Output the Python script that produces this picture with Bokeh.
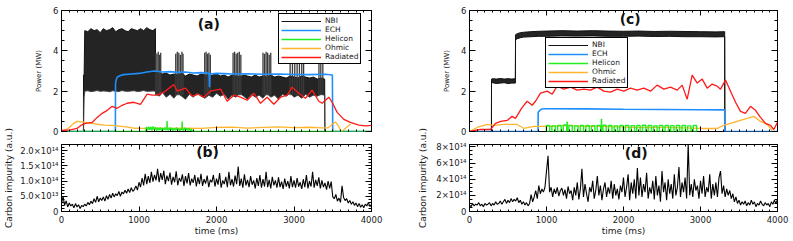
from bokeh.plotting import figure
from bokeh.models import (Range1d, LinearAxis, SingleIntervalTicker, Legend, LegendItem, Label,
                          CustomLabelingPolicy)
from bokeh.layouts import row, column
from bokeh.embed import file_html
from bokeh.resources import INLINE

FONT = "DejaVu Sans"
C_NBI = "#111111"
C_ECH = "#1f8fff"
C_HEL = "#22ee22"
C_OHM = "#ffb52e"
C_RAD = "#ff1a1a"

# ---------------- panel (a) : power, shot 1 ----------------
nbi_a_t = [0, 283, 284, 292, 300,
           340, 380, 420, 460, 500, 540, 580, 620, 660, 700, 740, 780, 820, 860, 900, 940, 980, 1020, 1060, 1100, 1140, 1180,
           1212, 1214, 1260,
           1300, 1350, 1400, 1450, 1500, 1550, 1600, 1650, 1700, 1750, 1800, 1850, 1900, 1950, 2000, 2050, 2100, 2150, 2200, 2250,
           2300, 2350, 2400, 2450, 2500, 2550, 2600, 2650, 2700, 2750, 2800, 2850, 2900, 2950, 3000, 3050, 3100, 3150, 3200, 3250,
           3300, 3350, 3396, 3398, 4000]
nbi_a_hi = [0, 0, 2.8, 2.8, 5.0,
            4.95, 5.1, 5.0, 5.05, 4.9, 5.1, 5.0, 5.05, 5.15, 4.95, 5.05, 5.1, 5.0, 4.95, 5.1, 5.05, 5.0, 5.1, 5.0, 5.15, 5.05, 5.0,
            5.1, 2.9, 2.95,
            2.85, 2.9, 2.8, 2.85, 2.8, 2.9, 2.75, 2.85, 2.8, 2.75, 2.85, 2.8, 2.75, 2.8, 2.85, 2.75, 2.8, 2.7, 2.8, 2.75,
            2.7, 2.8, 2.75, 2.7, 2.8, 2.7, 2.75, 2.7, 2.8, 2.7, 2.75, 2.7, 2.65, 2.75, 2.7, 2.65, 2.75, 2.7, 2.65, 2.7,
            2.6, 2.65, 2.6, 0, 0]
nbi_a_lo = [0, 0, 0, 1.7, 2.0,
            2.02, 1.98, 2.0, 2.03, 1.99, 2.01, 2.0, 1.97, 2.02, 2.0, 1.98, 2.03, 2.0, 1.99, 2.01, 2.02, 1.98, 2.0, 2.03, 1.99, 2.0, 2.01,
            2.0, 1.9, 1.75,
            1.95, 1.7, 1.85, 1.65, 1.9, 1.75, 1.6, 1.85, 1.7, 1.9, 1.75, 1.65, 1.8, 1.7, 1.9, 1.75, 1.85, 1.6, 1.8, 1.7,
            1.9, 1.75, 1.6, 1.85, 1.7, 1.8, 1.65, 1.9, 1.7, 1.8, 1.6, 1.85, 1.75, 1.9, 1.7, 1.8, 1.65, 1.85, 1.7, 1.8,
            1.75, 1.85, 1.8, 0, 0]
nbi_a_burst_t = [1216, 1232, 1248, 1264, 1280,
                 1474, 1494, 1514, 1534, 1554, 1568,
                 1848, 1866, 1884, 1902, 1920,
                 2214, 2234, 2254, 2274, 2294, 2314,
                 2600, 2620, 2640, 2660, 2680, 2700,
                 2950, 2980, 3010, 3040, 3070, 3100, 3124,
                 3322, 3346, 3372]
nbi_a_burst_v = [3.9, 3.85, 3.95, 3.8, 3.9,
                 3.85, 3.95, 3.9, 3.8, 3.95, 3.85,
                 3.9, 3.95, 3.85, 3.9, 3.8,
                 3.9, 3.95, 3.85, 3.9, 3.95, 3.8,
                 3.9, 3.85, 3.95, 3.9, 3.8, 3.9,
                 3.85, 3.95, 3.9, 3.8, 3.9, 3.85, 3.9,
                 3.9, 3.95, 3.85]
ech_a_t = [0, 695, 697, 705, 720, 760, 800, 900, 1000, 1100, 1200, 1300, 1400, 1500, 1600, 1700, 1800, 1905, 1910, 1915,
           2000, 2100, 2200, 2400, 2600, 2800, 3000, 3200, 3400, 3495, 3500, 4000]
ech_a_v = [0, 0, 2.4, 2.55, 2.7, 2.78, 2.82, 2.85, 2.88, 2.95, 3.0, 2.95, 2.97, 2.93, 2.95, 2.9, 2.92, 2.9, 2.2, 2.85,
           2.88, 2.87, 2.85, 2.86, 2.84, 2.85, 2.83, 2.82, 2.84, 2.8, 0, 0]
hel_a_t = [0, 1090, 1093, 1108, 1123, 1138, 1153, 1168, 1183, 1198,
           1213, 1228, 1243, 1258, 1273, 1288, 1303, 1318, 1333, 1348,
           1360, 1362, 1364, 1378, 1393, 1408, 1423, 1438, 1453, 1468,
           1483, 1498, 1513, 1528, 1543, 1555, 1557, 1559, 1573, 1588,
           1603, 1618, 1633, 1648, 1663, 1678, 1686, 1688, 4000]
hel_a_v = [0, 0, 0.22, 0.06, 0.24, 0.08, 0.22, 0.05, 0.25, 0.1,
           0.2, 0.04, 0.18, 0.06, 0.2, 0.05, 0.17, 0.08, 0.2, 0.06,
           0.18, 0.52, 0.15, 0.05, 0.2, 0.08, 0.18, 0.04, 0.16, 0.06,
           0.2, 0.05, 0.14, 0.04, 0.15, 0.1, 0.5, 0.12, 0.04, 0.18,
           0.06, 0.16, 0.05, 0.15, 0.04, 0.12, 0.03, 0, 0]
ohm_a_t = [0, 40, 100, 150, 200, 250, 300, 350, 400, 460, 550, 650, 750, 850, 950, 1050, 1200, 1400, 1600, 1800,
           2000, 2200, 2400, 2600, 2800, 3000, 3200, 3350, 3440, 3490, 3535, 3570, 3610, 3660, 3730]
ohm_a_v = [0.0, 0.05, 0.2, 0.38, 0.5, 0.48, 0.45, 0.42, 0.4, 0.36, 0.32, 0.3, 0.27, 0.22, 0.16, 0.15, 0.17, 0.15, 0.17, 0.15,
           0.2, 0.22, 0.17, 0.2, 0.23, 0.19, 0.21, 0.18, 0.18, 0.35, 0.47, 0.3, -0.03, 0.15, 0.37]
rad_a_t = [0, 116, 200, 250, 310, 396, 460, 525, 590, 654, 718, 783, 847, 933, 1019, 1105, 1170, 1234, 1320, 1406,
           1450, 1492, 1600, 1686, 1772, 1836, 1922, 2052, 2138, 2224, 2310, 2396, 2482, 2568, 2654, 2740, 2826, 2912, 2976, 3062,
           3148, 3234, 3320, 3363, 3449, 3492, 3557, 3643, 3729, 3836, 3923, 4000]
rad_a_v = [0.05, 0.08, 0.15, 0.3, 0.4, 0.45, 0.7, 0.9, 1.05, 1.25, 1.15, 1.3, 1.4, 1.45, 1.35, 1.85, 1.8, 1.8, 1.95, 2.2,
           2.33, 2.0, 2.15, 1.75, 1.85, 1.7, 2.0, 2.1, 1.5, 1.8, 1.7, 1.55, 1.9, 1.4, 1.7, 1.35, 1.7, 1.8, 2.2, 1.9,
           1.65, 2.05, 1.5, 1.4, 1.7, 1.45, 0.95, 0.6, 0.45, 0.32, 0.28, 0.3]

# ---------------- panel (b) : carbon impurity, shot 1 (units 1e13) ----------------
carbon_b_t = list(range(0, 4001, 20))
carbon_b_1e13 = [
    2.5, 5.0, 2.0, 3.5, 1.5, 2.8, 1.8, 2.4, 1.2, 2.6,
    1.5, 2.2, 1.0, 2.0, 1.6, 2.4, 1.8, 3.0, 2.2, 3.4,
    2.6, 4.2, 3.0, 5.0, 3.2, 4.4, 3.6, 4.8, 3.4, 5.2,
    4.0, 5.6, 4.4, 6.0, 4.8, 5.8, 5.2, 6.6, 5.0, 6.4,
    5.8, 7.0, 6.0, 7.4, 6.2, 7.8, 6.6, 7.2, 8.4, 7.0,
    9.6, 8.0, 11.0, 8.6, 12.4, 9.0, 11.6, 9.4, 13.0, 9.8,
    12.0, 10.2, 14.0, 9.6, 12.6, 10.4, 13.4, 9.0, 11.8, 10.0,
    12.8, 8.8, 11.4, 9.6, 13.2, 8.6, 11.0, 9.8, 12.2, 8.4,
    11.6, 9.2, 12.6, 8.6, 10.8, 9.4, 12.0, 8.2, 11.2, 9.0,
    12.4, 8.4, 10.6, 9.2, 11.8, 8.0, 10.4, 9.6, 12.0, 8.2,
    10.8, 8.8, 12.6, 7.8, 10.2, 9.0, 11.4, 8.0, 13.0, 8.6,
    10.6, 8.2, 11.8, 9.0, 14.8, 8.4, 10.8, 7.8, 12.2, 8.6,
    10.4, 8.0, 11.6, 8.8, 10.2, 7.6, 11.0, 8.4, 12.0, 7.8,
    10.6, 8.2, 13.0, 8.0, 10.4, 7.6, 11.4, 8.6, 10.2, 7.8,
    11.2, 8.0, 9.8, 7.4, 10.8, 8.2, 10.0, 7.6, 11.6, 8.0,
    10.2, 7.8, 11.0, 8.2, 9.6, 7.4, 10.6, 8.0, 12.0, 7.6,
    10.0, 8.2, 13.0, 7.8, 10.4, 8.4, 11.2, 7.6, 10.2, 8.0,
    9.4, 7.2, 10.0, 7.6, 9.8, 4.8, 4.2, 5.6, 3.4, 4.4,
    3.0, 8.4, 4.6, 3.6, 4.2, 2.8, 3.6, 2.4, 3.2, 2.0,
    2.8, 1.6, 2.6, 1.4, 2.2, 1.2, 2.4, 1.8, 3.0, 1.6,
    2.4]
carbon_b_ticks = {0: "0", 5: "5.0×10¹³", 10: "1.0×10¹⁴", 15: "1.5×10¹⁴", 20: "2.0×10¹⁴"}

# ---------------- panel (c) : power, shot 2 ----------------
nbi_c_t = [0, 285, 286, 300, 350, 400, 450, 500, 550, 596, 598, 620, 660, 700, 800, 900, 1000, 1200, 1400, 1600,
           1800, 2000, 2200, 2400, 2600, 2800, 3000, 3200, 3314, 3316, 4000]
nbi_c_hi = [0, 0, 2.6, 2.62, 2.6, 2.63, 2.6, 2.62, 2.6, 2.62, 4.8, 4.85, 4.9, 4.92, 4.95, 4.97, 4.98, 5.0, 4.98, 5.0,
            4.98, 4.97, 4.98, 4.96, 4.97, 4.96, 4.95, 4.94, 4.95, 0, 0]
nbi_c_lo = [0, 0, 2.4, 2.42, 2.38, 2.4, 2.42, 2.38, 2.4, 2.4, 4.55, 4.6, 4.65, 4.68, 4.7, 4.72, 4.72, 4.74, 4.73, 4.74,
            4.72, 4.72, 4.73, 4.71, 4.72, 4.7, 4.7, 4.69, 4.7, 0, 0]
ech_c_t = [0, 890, 892, 900, 930, 960, 1000, 1500, 2000, 2500, 3000, 3300, 3314, 3316, 4000]
ech_c_v = [0, 0, 0.95, 1.0, 1.1, 1.13, 1.13, 1.12, 1.1, 1.09, 1.08, 1.07, 1.07, 0, 0]
hel_c_start = [998, 1070, 1145, 1218, 1290, 1365, 1438, 1512, 1585, 1660, 1732, 1806, 1880, 1952, 2026, 2100, 2172,
               2246, 2320, 2392, 2466, 2540, 2612, 2686, 2760, 2832, 2906]
hel_c_end = [1042, 1114, 1189, 1262, 1334, 1409, 1482, 1556, 1629, 1704, 1776, 1850, 1924, 1996, 2070, 2144, 2216,
             2290, 2364, 2436, 2510, 2584, 2656, 2730, 2804, 2876, 2950]
hel_c_top = [0.3, 0.28, 0.3, 0.32, 0.3, 0.28, 0.3, 0.3, 0.29, 0.3, 0.31, 0.3, 0.28, 0.3, 0.3, 0.29, 0.3,
             0.31, 0.3, 0.28, 0.3, 0.3, 0.29, 0.3, 0.3, 0.28, 0.3]
hel_c_spike_t = [1268, 1714]
hel_c_spike_v = [0.5, 0.63]
ohm_c_t = [0, 100, 229, 316, 446, 619, 706, 835, 1052, 1268, 1485, 1701, 2134, 2567, 3000, 3216, 3303, 3433, 3606, 3693,
           3779, 3866, 3931]
ohm_c_v = [0.0, 0.2, 0.35, 0.3, 0.35, 0.35, 0.15, 0.25, 0.25, 0.3, 0.25, 0.25, 0.2, 0.2, 0.15, 0.15, 0.3, 0.45, 0.65, 0.75,
           0.5, 0.35, 0.05]
rad_c_t = [0, 143, 273, 338, 403, 489, 554, 597, 684, 749, 814, 857, 922, 1009, 1074, 1139, 1225, 1312, 1398, 1485,
           1571, 1658, 1745, 1831, 1918, 2004, 2091, 2177, 2264, 2351, 2437, 2524, 2610, 2697, 2762, 2827, 2892, 2957, 3022, 3087,
           3152, 3216, 3260, 3325, 3390, 3455, 3519, 3584, 3649, 3714, 3779, 3844, 3909, 3952, 4000]
rad_c_v = [0.0, 0.1, 0.1, 0.4, 0.5, 0.55, 0.75, 0.65, 1.2, 1.5, 1.3, 1.5, 1.9, 2.0, 1.85, 2.25, 2.1, 2.2, 2.05, 2.1,
           2.05, 2.2, 2.0, 1.95, 2.1, 2.0, 2.15, 2.05, 2.15, 2.0, 2.3, 2.1, 2.2, 2.05, 2.3, 1.6, 2.8, 2.4, 2.6, 2.15,
           2.35, 2.25, 2.1, 2.55, 2.0, 1.45, 1.0, 0.9, 1.25, 1.05, 0.7, 0.4, 0.3, 0.1, 0.45]

# ---------------- panel (d) : carbon impurity, shot 2 (units 1e14) ----------------
carbon_d_t = list(range(0, 4001, 20))
carbon_d_1e14 = [
    0.8, 0.6, 1.0, 0.7, 0.9, 0.8, 1.1, 0.7, 0.9, 0.6,
    1.0, 0.8, 0.9, 1.1, 0.7, 1.0, 0.8, 1.2, 0.9, 1.0,
    1.3, 0.9, 1.2, 1.5, 1.0, 1.4, 1.1, 1.6, 1.2, 1.5,
    1.3, 1.7, 1.1, 1.4, 0.9, 1.2, 0.8, 1.1, 0.7, 1.0,
    2.1, 1.2, 1.8, 2.6, 1.6, 3.2, 2.2, 2.8, 2.4, 3.0,
    5.0, 6.9, 2.4, 3.0, 1.8, 2.8, 2.2, 3.0, 1.9, 2.6,
    2.9, 2.0, 2.7, 1.6, 3.1, 2.2, 2.6, 1.4, 3.0, 2.0,
    3.6, 1.5, 2.8, 5.3, 1.8, 3.4, 2.2, 1.2, 3.0, 2.4,
    3.8, 1.6, 2.6, 4.4, 2.0, 3.2, 1.4, 2.8, 3.6, 1.8,
    3.0, 2.2, 3.8, 1.6, 3.4, 2.0, 2.8, 1.5, 3.2, 2.4,
    4.2, 1.8, 3.0, 4.6, 1.4, 3.6, 2.2, 4.0, 1.6, 5.4,
    2.0, 4.2, 1.8, 3.4, 2.4, 4.8, 1.6, 3.0, 2.2, 3.8,
    1.5, 4.4, 2.0, 3.2, 1.2, 5.0, 2.4, 3.6, 1.4, 4.0,
    2.2, 3.4, 1.6, 4.6, 2.0, 3.0, 5.5, 1.8, 3.6, 2.4,
    4.2, 1.6, 8.4, 2.0, 3.4, 1.8, 4.0, 2.6, 3.2, 1.6,
    3.8, 2.2, 4.4, 1.8, 3.0, 2.4, 4.6, 1.6, 3.4, 2.0,
    3.6, 1.8, 4.2, 5.0, 2.2, 3.2, 1.8, 2.8, 2.0, 2.6,
    1.6, 2.2, 1.2, 1.8, 1.0, 1.4, 0.8, 1.2, 0.9, 1.3,
    0.7, 1.1, 0.8, 1.4, 0.9, 1.2, 0.6, 1.0, 0.8, 1.3,
    0.9, 0.7, 1.1, 0.8, 1.0, 0.6, 1.2, 0.9, 1.4, 1.0,
    1.5]
carbon_d_ticks = {0: "0", 2: "2×10¹⁴", 4: "4×10¹⁴", 6: "6×10¹⁴", 8: "8×10¹⁴"}

legend_labels = ["NBI", "ECH", "Helicon", "Ohmic", "Radiated"]

NO_LABELS = """
try { const n = indices.size; for (let i = 0; i < n; i++) indices.unset(i); } catch (e) {}
return indices
"""


def make_fig(w, h, yr, left, right, top, bottom):
    p = figure(width=w, height=h, x_range=Range1d(0, 4000), y_range=Range1d(*yr),
               min_border_left=left, min_border_right=right, min_border_top=top, min_border_bottom=bottom,
               toolbar_location=None, output_backend="svg")
    p.xgrid.visible = False
    p.ygrid.visible = False
    p.outline_line_color = "black"
    p.outline_line_alpha = 1
    p.outline_line_width = 1
    p.background_fill_color = "white"
    p.border_fill_color = "white"
    return p


def style_axis(ax, show, tick_in, minor_in):
    ax.axis_line_color = None
    ax.major_tick_in = tick_in
    ax.major_tick_out = 0
    ax.minor_tick_in = minor_in
    ax.minor_tick_out = 0
    ax.major_tick_line_color = "black"
    ax.minor_tick_line_color = "black"
    ax.major_label_text_font = FONT
    ax.major_label_text_color = "#1a1a1a"
    if show:
        ax.major_label_text_font_size = "8.5px"
        ax.major_label_standoff = 3
    else:
        ax.major_label_text_font_size = "0px"
        ax.major_label_standoff = 0
        ax.major_label_policy = CustomLabelingPolicy(code=NO_LABELS)
    ax.axis_label_text_font = FONT
    ax.axis_label_text_font_style = "normal"
    ax.axis_label_text_color = "#1a1a1a"


def frame_axes(p, x_int, x_minor, y_int, y_minor, show_x):
    xt = SingleIntervalTicker(interval=x_int, num_minor_ticks=x_minor)
    yt = SingleIntervalTicker(interval=y_int, num_minor_ticks=y_minor)
    bottom = p.below[0]
    left = p.left[0]
    bottom.ticker = xt
    style_axis(bottom, show_x, 5, 2)
    left.ticker = yt
    style_axis(left, True, 6, 3)
    ra = LinearAxis(ticker=yt)
    style_axis(ra, False, 6, 3)
    p.add_layout(ra, "right")
    ta = LinearAxis(ticker=xt)
    style_axis(ta, False, 5, 2)
    p.add_layout(ta, "above")
    return bottom, left


def add_legend(p, renderers, loc):
    items = [LegendItem(label=l, renderers=[r]) for l, r in zip(legend_labels, renderers)]
    lg = Legend(items=items, location=loc, orientation="vertical")
    lg.border_line_color = "black"
    lg.border_line_width = 1
    lg.border_line_alpha = 1
    lg.background_fill_color = "white"
    lg.background_fill_alpha = 1
    lg.label_text_font = FONT
    lg.label_text_font_size = "7.5px"
    lg.label_text_color = "#1a1a1a"
    lg.label_height = 8
    lg.glyph_height = 8
    lg.glyph_width = 40
    lg.spacing = 0
    lg.padding = 2
    lg.margin = 0
    lg.label_standoff = 4
    p.add_layout(lg)


def panel_tag(p, x, y, text):
    p.add_layout(Label(x=x, y=y, text=text, text_font=FONT, text_font_size="14px",
                       text_font_style="bold", text_align="center", text_baseline="middle",
                       text_color="#111111"))


# ---- (a)
pa = make_fig(400, 136, (0, 6), 61, 29, 10, 5)
xa, ya = frame_axes(pa, 1000, 10, 2, 4, False)
ya.axis_label = "Power (MW)"
ya.axis_label_text_font_size = "7px"
ya.axis_label_standoff = 7
pa.varea(x=nbi_a_t, y1=nbi_a_lo, y2=nbi_a_hi, fill_color=C_NBI, fill_alpha=0.92)
r_nbi_a = pa.line(nbi_a_t, nbi_a_hi, line_color=C_NBI, line_width=1)
pa.line(nbi_a_t, nbi_a_lo, line_color="#444444", line_width=1)
pa.segment(x0=nbi_a_burst_t, y0=1.8, x1=nbi_a_burst_t, y1=nbi_a_burst_v, line_color="#3a3a3a", line_width=1.3)
r_ech_a = pa.line(ech_a_t, ech_a_v, line_color=C_ECH, line_width=1.6)
r_ohm_a = pa.line(ohm_a_t, ohm_a_v, line_color=C_OHM, line_width=1.3)
r_hel_a = pa.line(hel_a_t, hel_a_v, line_color=C_HEL, line_width=1.5)
r_rad_a = pa.line(rad_a_t, rad_a_v, line_color=C_RAD, line_width=1.3)
add_legend(pa, [r_nbi_a, r_ech_a, r_hel_a, r_ohm_a, r_rad_a], (217, 67))
panel_tag(pa, 1900, 5.35, "(a)")

# ---- (b)  (pulled up 10 px so its long y label is not clipped; transparent border)
pb = make_fig(400, 115, (0, 22), 61, 29, 18, 30)
pb.margin = (-10, 0, 0, 0)
pb.border_fill_alpha = 0
xb, yb = frame_axes(pb, 1000, 10, 5, 5, True)
xb.major_label_standoff = 4
yb.major_label_overrides = carbon_b_ticks
yb.axis_label = "Carbon impurity (a.u.)"
yb.axis_label_text_font_size = "9px"
yb.axis_label_standoff = 3
xb.axis_label = "time (ms)"
xb.axis_label_text_font_size = "9px"
xb.axis_label_standoff = 0
pb.line(carbon_b_t, carbon_b_1e13, line_color="black", line_width=1.1)
panel_tag(pb, 1885, 19.4, "(b)")

# ---- (c)
pc = make_fig(393, 136, (0, 6), 69, 16, 10, 5)
xc, yc = frame_axes(pc, 1000, 10, 2, 4, False)
yc.axis_label = "Power (MW)"
yc.axis_label_text_font_size = "7px"
yc.axis_label_standoff = 7
pc.varea(x=nbi_c_t, y1=nbi_c_lo, y2=nbi_c_hi, fill_color=C_NBI, fill_alpha=0.92)
r_nbi_c = pc.line(nbi_c_t, nbi_c_hi, line_color=C_NBI, line_width=1)
pc.line(nbi_c_t, nbi_c_lo, line_color=C_NBI, line_width=1)
r_ech_c = pc.line(ech_c_t, ech_c_v, line_color=C_ECH, line_width=1.6)
r_ohm_c = pc.line(ohm_c_t, ohm_c_v, line_color=C_OHM, line_width=1.3)
pc.quad(left=hel_c_start, right=hel_c_end, bottom=0, top=hel_c_top, fill_alpha=0,
        line_color=C_HEL, line_width=1.4)
r_hel_c = pc.segment(x0=hel_c_spike_t, y0=0, x1=hel_c_spike_t, y1=hel_c_spike_v, line_color=C_HEL, line_width=1.6)
r_rad_c = pc.line(rad_c_t, rad_c_v, line_color=C_RAD, line_width=1.3)
add_legend(pc, [r_nbi_c, r_ech_c, r_hel_c, r_ohm_c, r_rad_c], (76, 43))
panel_tag(pc, 2087, 5.57, "(c)")

# ---- (d)
pd_ = make_fig(393, 115, (0, 8.3), 69, 16, 18, 30)
pd_.margin = (-10, 0, 0, 0)
pd_.border_fill_alpha = 0
xd, yd = frame_axes(pd_, 1000, 10, 2, 4, True)
xd.major_label_standoff = 4
yd.major_label_overrides = carbon_d_ticks
yd.axis_label = "Carbon impurity (a.u.)"
yd.axis_label_text_font_size = "9px"
yd.axis_label_standoff = 5
xd.axis_label = "time (ms)"
xd.axis_label_text_font_size = "9px"
xd.axis_label_standoff = 0
pd_.line(carbon_d_t, carbon_d_1e14, line_color="black", line_width=1.1)
panel_tag(pd_, 2165, 7.2, "(d)")

layout = row(column(pa, pb), column(pc, pd_))
open("out.html", "w").write(file_html(layout, INLINE))
